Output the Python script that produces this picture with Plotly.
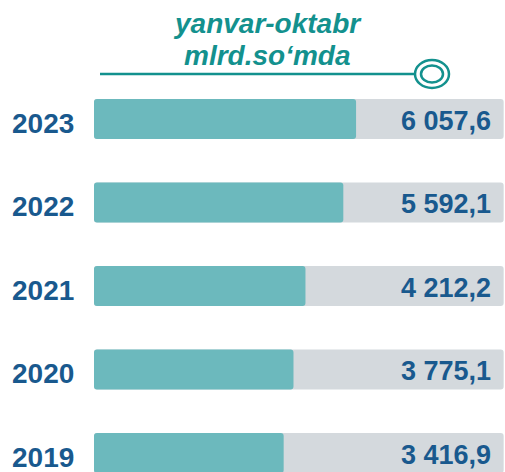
import plotly.graph_objects as go

# ---- data ----
years = ["2023", "2022", "2021", "2020", "2019"]
values = [6057.6, 5592.1, 4212.2, 3775.1, 3416.9]
header_line1 = "yanvar-oktabr"
header_line2 = "mlrd.so‘mda"

# ---- styling constants ----
W, H = 505, 472
TEAL_BAR = "#6cb9bd"
TRACK = "#d4d9dd"
TEXT_BLUE = "#19598e"
HEAD_TEAL = "#13918e"
BASE = -3500          # visual baseline of the bars (non-zero baseline of the infographic)
X_RANGE = [-6928, 11489]
TRACK_END = 11440
FONT = "Liberation Sans, Arial, sans-serif"


def fmt(v):
    return f"{v:,.1f}".replace(",", " ").replace(".", ",")


idx = list(range(len(years)))

fig = go.Figure()

# grey track behind each bar
fig.add_trace(go.Bar(
    y=idx, x=[TRACK_END - BASE] * len(years), base=BASE,
    orientation="h", marker=dict(color=TRACK, line=dict(width=0)),
    width=0.479, hoverinfo="skip", showlegend=False,
))
# teal value bars
fig.add_trace(go.Bar(
    y=idx, x=[v - BASE for v in values], base=BASE,
    orientation="h", marker=dict(color=TEAL_BAR, line=dict(width=0)),
    width=0.479, showlegend=False,
    customdata=list(zip(years, values)),
    hovertemplate="%{customdata[0]}: %{customdata[1]}<extra></extra>",
))

annotations = []
for i, (yr, v) in enumerate(zip(years, values)):
    annotations.append(dict(
        x=43 / W, xref="paper", y=i, yref="y", text=yr, showarrow=False,
        xanchor="center", yanchor="middle", yshift=-4, height=28, valign="middle",
        font=dict(family=FONT, size=28, color=TEXT_BLUE, weight="bold"),
    ))
    annotations.append(dict(
        x=493 / W, xref="paper", y=i, yref="y", text=fmt(v), showarrow=False,
        xanchor="right", yanchor="middle", yshift=-2, height=28, valign="middle",
        font=dict(family=FONT, size=27, color=TEXT_BLUE, weight="bold"),
    ))

# header text
for txt, py in [(header_line1, 24), (header_line2, 55)]:
    annotations.append(dict(
        x=267 / W, xref="paper", y=1 - py / H, yref="paper", text=txt,
        showarrow=False, xanchor="center", yanchor="middle",
        font=dict(family=FONT, size=28, color=HEAD_TEAL, weight="bold", style="italic"),
    ))

shapes = [
    dict(type="line", xref="paper", yref="paper",
         x0=100 / W, x1=415 / W, y0=1 - 74 / H, y1=1 - 74 / H,
         line=dict(color=HEAD_TEAL, width=2.5)),
    dict(type="circle", xref="paper", yref="paper",
         x0=(432 - 17) / W, x1=(432 + 17) / W, y0=1 - (74 + 14) / H, y1=1 - (74 - 14) / H,
         line=dict(color=HEAD_TEAL, width=2.5), fillcolor="white"),
    dict(type="circle", xref="paper", yref="paper",
         x0=(432 - 11) / W, x1=(432 + 11) / W, y0=1 - (74 + 8.5) / H, y1=1 - (74 - 8.5) / H,
         line=dict(color=HEAD_TEAL, width=2.5), fillcolor="white"),
]

fig.update_layout(
    width=W, height=H,
    margin=dict(l=0, r=0, t=0, b=0),
    paper_bgcolor="white", plot_bgcolor="white",
    barmode="overlay", barcornerradius=3,
    xaxis=dict(range=X_RANGE, visible=False, fixedrange=True),
    yaxis=dict(range=[4.228, -1.425], visible=False, fixedrange=True),
    annotations=annotations, shapes=shapes,
    showlegend=False,
)

fig.write_html(
    "out.html",
    config={"displayModeBar": False},
    post_script="document.body.style.margin='0';document.body.style.overflow='hidden';",
)
